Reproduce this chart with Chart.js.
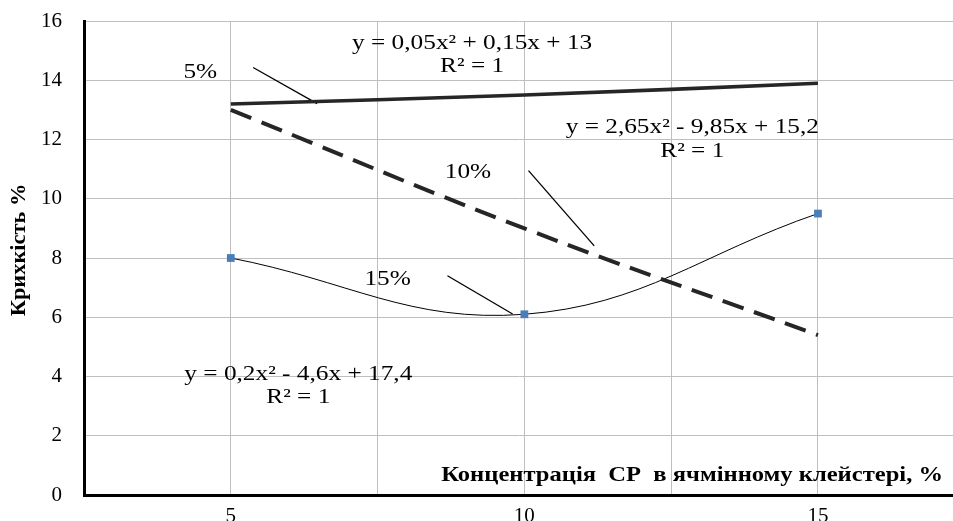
<!DOCTYPE html>
<html><head><meta charset="utf-8">
<script src="https://cdn.jsdelivr.net/npm/chart.js@4.4.0/dist/chart.umd.min.js"></script>
<style>html,body{margin:0;padding:0;background:#fff;overflow:hidden}</style>
</head><body>
<canvas id="c" width="953" height="521" style="width:953px;height:521px;display:block"></canvas>
<script>
// ---- data ----
const xValues = [5, 10, 15];
const brittleness5 = [13.2, 13.5, 13.9];
const brittleness10 = [13.0, 9.0, 5.4];
const brittleness15 = [8.0, 6.1, 9.5];
const xTickValues = [2.5, 5, 7.5, 10, 12.5, 15];
const xTickLabels = ['', '5', '', '10', '', '15'];
const yTickValues = [0, 2, 4, 6, 8, 10, 12, 14, 16];
const seriesNames = ['5%', '10%', '15%'];
const equations = ['y = 0,05x² + 0,15x + 13', 'y = 2,65x² - 9,85x + 15,2', 'y = 0,2x² - 4,6x + 17,4'];
const rSquaredText = 'R² = 1';
const yTitle = 'Крихкість %';
const xTitle = 'Концентрація  СР  в ячмінному клейстері, %';

// ---- annotation layout (data units) ----
const textLayout = [
  {text: seriesNames[0], x: 4.48, y: 14.26},
  {text: seriesNames[1], x: 9.04, y: 10.88},
  {text: seriesNames[2], x: 7.67, y: 7.30},
  {text: equations[0], x: 9.11, y: 15.24},
  {text: rSquaredText, x: 9.11, y: 14.46},
  {text: equations[1], x: 12.86, y: 12.43},
  {text: rSquaredText, x: 12.86, y: 11.59},
  {text: equations[2], x: 6.15, y: 4.09},
  {text: rSquaredText, x: 6.15, y: 3.31}
];
const leaderLines = [
  [{x: 5.38, y: 14.43}, {x: 6.47, y: 13.21}],
  [{x: 10.07, y: 10.95}, {x: 11.19, y: 8.41}],
  [{x: 8.69, y: 7.40}, {x: 9.80, y: 6.11}]
];

const pts = arr => xValues.map((x, i) => ({x: x, y: arr[i]}));
const serif = 'Liberation Serif, Times New Roman, serif';

const datasets = [
  {label: seriesNames[0], data: pts(brittleness5), borderColor: '#262626', borderWidth: 3.6,
   pointRadius: 0, tension: 0.4, fill: false},
  {label: seriesNames[1], data: pts(brittleness10), borderColor: '#262626', borderWidth: 4,
   borderDash: [22, 11], pointRadius: 0, tension: 0.4, fill: false},
  {label: seriesNames[2], data: pts(brittleness15), borderColor: '#000', borderWidth: 1,
   pointStyle: 'rect', pointRadius: 5.5, pointBackgroundColor: '#4a7ebb', pointBorderColor: '#4a7ebb',
   pointBorderWidth: 0, tension: 0.4, fill: false}
];
leaderLines.forEach(l => datasets.push({label: 'leader', data: l, borderColor: '#000', borderWidth: 1.3,
  pointRadius: 0, tension: 0, fill: false}));

const textPlugin = {
  id: 'texts',
  afterDatasetsDraw(chart) {
    const ctx = chart.ctx, xs = chart.scales.x, ys = chart.scales.y, ca = chart.chartArea;
    ctx.save();
    ctx.fillStyle = '#000';
    ctx.textAlign = 'center';
    ctx.textBaseline = 'middle';
    ctx.font = '22px ' + serif;
    textLayout.forEach(t => {
      const px = xs.getPixelForValue(t.x), py = ys.getPixelForValue(t.y);
      ctx.save();
      ctx.translate(px, py);
      ctx.scale(1.15, 1);
      ctx.fillText(t.text, 0, 0);
      ctx.restore();
    });
    // x axis title inside plot, right aligned
    ctx.font = 'bold 21px ' + serif;
    ctx.textAlign = 'right';
    ctx.textBaseline = 'alphabetic';
    ctx.save();
    ctx.translate(943, ca.bottom - 14);
    ctx.scale(1.17, 1);
    ctx.fillText(xTitle, 0, 0);
    ctx.restore();
    // y axis title
    ctx.font = 'bold 20px ' + serif;
    ctx.textAlign = 'center';
    ctx.textBaseline = 'middle';
    ctx.save();
    ctx.translate(20, 250);
    ctx.rotate(-Math.PI / 2);
    ctx.scale(1.12, 1);
    ctx.fillText(yTitle, 0, 0);
    ctx.restore();
    ctx.restore();
  }
};

new Chart(document.getElementById('c'), {
  type: 'line',
  data: {datasets: datasets},
  options: {
    responsive: false,
    animation: false,
    devicePixelRatio: 1,
    layout: {autoPadding: false, padding: {top: 21, right: 0, bottom: 0, left: 0}},
    plugins: {legend: {display: false}, tooltip: {enabled: false}},
    scales: {
      x: {
        type: 'linear', min: 2.5, max: 17.3,
        afterBuildTicks: s => { s.ticks = xTickValues.map(v => ({value: v})); },
        afterFit: s => { s.height = 26; s.paddingLeft = 0; s.paddingRight = 0; },
        grid: {color: '#bfbfbf', lineWidth: 1, drawTicks: false},
        border: {display: true, color: '#000', width: 3},
        ticks: {
          padding: 9, color: '#000', font: {family: serif, size: 21},
          maxRotation: 0, autoSkip: false,
          callback: (v) => { const i = xTickValues.indexOf(v); return i >= 0 ? xTickLabels[i] : ''; }
        }
      },
      y: {
        type: 'linear', min: 0, max: 16,
        afterBuildTicks: s => { s.ticks = yTickValues.map(v => ({value: v})); },
        afterFit: s => { s.width = 84; s.paddingTop = 0; s.paddingBottom = 0; },
        grid: {color: '#bfbfbf', lineWidth: 1, drawTicks: false},
        border: {display: true, color: '#000', width: 3},
        ticks: {padding: 22, color: '#000', font: {family: serif, size: 21}}
      }
    }
  },
  plugins: [textPlugin]
});
</script>
</body></html>
